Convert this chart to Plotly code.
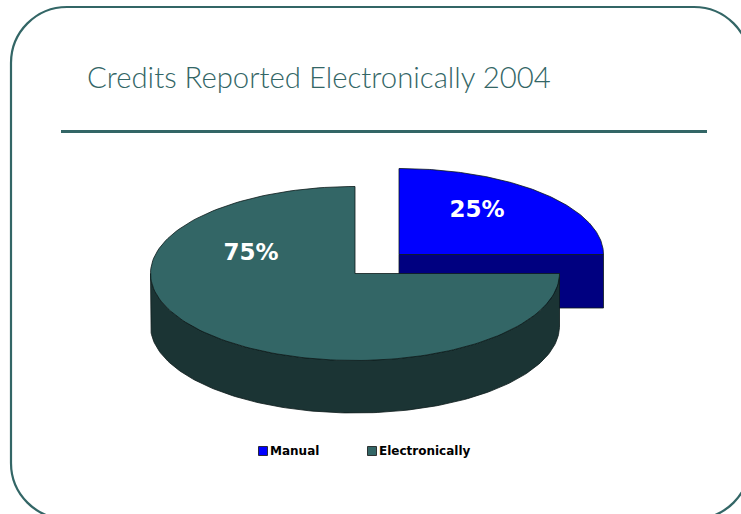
import numpy as np
import plotly.graph_objects as go

# Shares of credits by reporting method
categories = ["Manual", "Electronically"]
shares = [25, 75]

TITLE = "Credits Reported Electronically 2004"
TEAL = "#336666"
TEAL_DARK = "#1B3434"
BLUE = "#0000FF"
BLUE_DARK = "#000080"
EDGE = "#0C1A1A"
WIDTH, HEIGHT = 741, 514


def ellipse_point(center, radii, angle):
    """Point on a tilted pie rim; angle runs clockwise from twelve o'clock."""
    return (center[0] + radii[0] * np.sin(angle), center[1] - radii[1] * np.cos(angle))


def wedge_face(center, radii, start, end):
    t = np.linspace(start, end, 160)
    x, y = ellipse_point(center, radii, t)
    return np.r_[center[0], x, center[0]], np.r_[center[1], y, center[1]]


def rim_wall(center, radii, depth, start, end):
    t = np.linspace(start, end, 160)
    x, y = ellipse_point(center, radii, t)
    return np.r_[x, x[::-1], x[0]], np.r_[y, (y + depth)[::-1], y[0]]


def polygon(x, y, color):
    return go.Scatter(
        x=x, y=y, mode="lines", fill="toself", fillcolor=color,
        line=dict(color=EDGE, width=0.8), hoverinfo="skip", showlegend=False,
    )


angle_ends = 2 * np.pi * np.cumsum(shares) / sum(shares)
manual_end, elec_end = angle_ends

# The smaller slice is pulled out up and to the right of the main body
manual_c, manual_r, manual_depth = (399, 254.5), (204.5, 86), 53.5
elec_c, elec_r, elec_depth = (355, 273.5), (204.5, 87), 52.5

fig = go.Figure()

# Cut face of the exploded slice
x_end, y_end = ellipse_point(manual_c, manual_r, manual_end)
fig.add_trace(polygon(
    [manual_c[0], x_end, x_end, manual_c[0], manual_c[0]],
    [manual_c[1], y_end, y_end + manual_depth, manual_c[1] + manual_depth, manual_c[1]],
    BLUE_DARK,
))
fig.add_trace(polygon(*wedge_face(manual_c, manual_r, 0, manual_end), BLUE))

# Outer wall, then the top face, of the large slice
fig.add_trace(polygon(*rim_wall(elec_c, elec_r, elec_depth, manual_end, 1.5 * np.pi), TEAL_DARK))
fig.add_trace(polygon(*wedge_face(elec_c, elec_r, manual_end, elec_end), TEAL))

# Percentage labels on the top faces
fig.add_trace(go.Scatter(
    x=[477, 251], y=[211, 254], mode="text",
    text=[f"{v}%" for v in shares],
    textposition="middle center",
    textfont=dict(family="DejaVu Sans", size=23, color="white", weight="bold"),
    hoverinfo="skip", showlegend=False,
))

# Legend row: swatches and their labels
fig.add_trace(go.Scatter(
    x=[263, 372], y=[451, 451], mode="markers",
    marker=dict(symbol="square", size=9, color=[BLUE, TEAL], line=dict(color="#111111", width=0.8)),
    hoverinfo="skip", showlegend=False,
))
fig.add_trace(go.Scatter(
    x=[270, 379], y=[452, 452], mode="text",
    text=categories,
    textposition="middle right",
    textfont=dict(family="DejaVu Sans", size=12, color="black", weight="bold"),
    hoverinfo="skip", showlegend=False,
))

# Rounded slide frame, partly running off the page
L, T, R, B, r = 11, 7, 750, 519, 56
k = r * 0.5523
frame = (
    f"M {L} {T + r} C {L} {T + r - k} {L + r - k} {T} {L + r} {T} "
    f"L {R - r} {T} C {R - r + k} {T} {R} {T + r - k} {R} {T + r} "
    f"L {R} {B - r} C {R} {B - r + k} {R - r + k} {B} {R - r} {B} "
    f"L {L + r} {B} C {L + r - k} {B} {L} {B - r + k} {L} {B - r} Z"
)

fig.update_layout(
    width=WIDTH, height=HEIGHT,
    margin=dict(l=0, r=0, t=0, b=0),
    paper_bgcolor="white", plot_bgcolor="white",
    xaxis=dict(range=[0, WIDTH], visible=False, fixedrange=True),
    yaxis=dict(range=[HEIGHT, 0], visible=False, fixedrange=True),
    title=dict(
        text=TITLE, x=87 / WIDTH, xanchor="left", xref="paper",
        y=1 - 78 / HEIGHT, yanchor="middle", yref="paper",
        font=dict(family="Lato", size=29.3, color=TEAL, weight=300),
    ),
    shapes=[
        dict(type="path", path=frame, xref="x", yref="y", line=dict(color=TEAL, width=2.2), layer="below"),
        dict(type="line", x0=61, x1=707, y0=131.5, y1=131.5, xref="x", yref="y",
             line=dict(color=TEAL, width=3), layer="below"),
    ],
)

fig.write_html("out.html", config={"displayModeBar": False})
